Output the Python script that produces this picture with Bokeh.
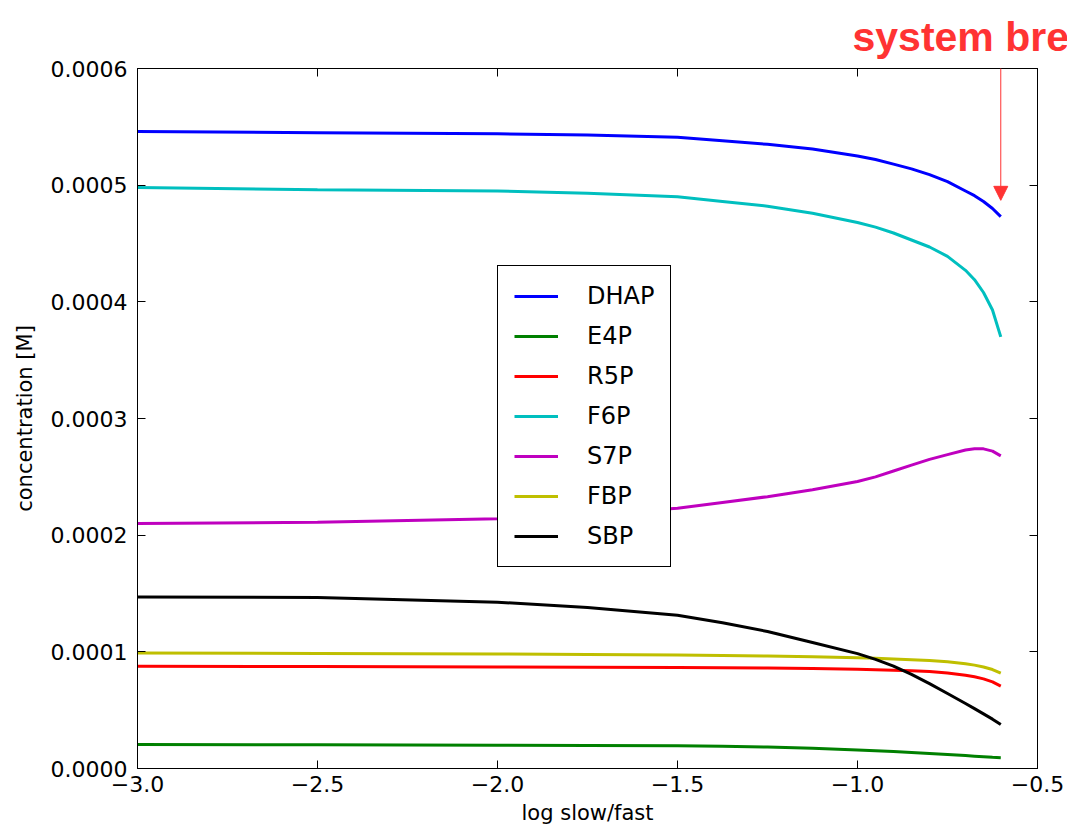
from bokeh.plotting import figure
from bokeh.models import (Range1d, FixedTicker, LinearAxis, Legend, LegendItem,
                          Arrow, NormalHead, Title)
from bokeh.embed import file_html
from bokeh.resources import INLINE

# ---- data ----
x = [-3.0, -2.5, -2.0, -1.75, -1.5, -1.375, -1.25, -1.125, -1.0, -0.95, -0.9,
     -0.85, -0.8, -0.75, -0.7, -0.675, -0.65, -0.625, -0.602]
DHAP = [0.000546, 0.000545, 0.000544, 0.000543, 0.000541, 0.000538, 0.000535,
        0.000531, 0.000525, 0.000522, 0.000518, 0.000514, 0.000509, 0.000503,
        0.000495, 0.000491, 0.000486, 0.000480, 0.000473]
E4P = [0.0000206, 0.0000203, 0.0000200, 0.0000197, 0.0000194, 0.0000190, 0.0000184,
       0.0000173, 0.0000159, 0.0000153, 0.0000146, 0.0000138, 0.0000129, 0.0000120,
       0.0000111, 0.0000106, 0.0000101, 0.0000096, 0.0000092]
R5P = [0.0000877, 0.0000874, 0.0000871, 0.0000868, 0.0000866, 0.0000864, 0.0000861,
       0.0000857, 0.0000851, 0.0000847, 0.0000843, 0.0000838, 0.0000831, 0.0000818,
       0.0000799, 0.0000786, 0.0000768, 0.0000742, 0.0000706]
F6P = [0.000498, 0.000496, 0.000495, 0.000493, 0.000490, 0.000486, 0.000482,
       0.000476, 0.000468, 0.000464, 0.000459, 0.000453, 0.000447, 0.000439,
       0.000427, 0.000419, 0.000408, 0.000393, 0.000370]
S7P = [0.000210, 0.000211, 0.000214, 0.000218, 0.000223, 0.000228, 0.000233,
       0.000239, 0.000246, 0.000250, 0.000255, 0.000260, 0.000265, 0.000269,
       0.000273, 0.000274, 0.000274, 0.000272, 0.000268]
FBP = [0.0000989, 0.0000986, 0.0000981, 0.0000977, 0.0000973, 0.0000969, 0.0000964,
       0.0000957, 0.0000949, 0.0000944, 0.0000939, 0.0000933, 0.0000926, 0.0000915,
       0.0000898, 0.0000886, 0.0000870, 0.0000848, 0.0000817]
SBP = [0.000147, 0.0001466, 0.0001426, 0.000138, 0.0001314, 0.000125, 0.0001174,
       0.000108, 0.0000985, 0.0000935, 0.0000878, 0.0000807, 0.0000728, 0.0000643,
       0.0000557, 0.0000513, 0.0000468, 0.0000423, 0.0000377]

series_names = ["DHAP", "E4P", "R5P", "F6P", "S7P", "FBP", "SBP"]
series_values = [DHAP, E4P, R5P, F6P, S7P, FBP, SBP]
series_colors = ["#0000ff", "#008000", "#ff0000", "#00bfbf", "#bf00bf", "#bfbf00", "#000000"]

x_ticks = [-3.0, -2.5, -2.0, -1.5, -1.0, -0.5]
x_tick_labels = ["\u22123.0", "\u22122.5", "\u22122.0", "\u22121.5", "\u22121.0", "\u22120.5"]
y_ticks = [0.0, 0.0001, 0.0002, 0.0003, 0.0004, 0.0005, 0.0006]
y_tick_labels = ["0.0000", "0.0001", "0.0002", "0.0003", "0.0004", "0.0005", "0.0006"]

annotation_text = "system breaks"

FONT = "DejaVu Sans"
RED = "#ff3333"

p = figure(width=1067, height=830, output_backend="svg", toolbar_location=None,
           x_range=Range1d(-3.0, -0.5), y_range=Range1d(0.0, 0.0006),
           min_border_left=137, min_border_right=30, min_border_top=68,
           min_border_bottom=62)
p.background_fill_color = "white"
p.border_fill_color = "white"
p.outline_line_color = "black"
p.outline_line_width = 1
p.outline_line_alpha = 1.0
p.xgrid.visible = False
p.ygrid.visible = False

# annotation text above the frame (cut at the right edge as in the reference)
p.title = Title(text=annotation_text, align="left", offset=715,
                text_font="Liberation Sans", text_font_size="41px",
                text_font_style="bold", text_color=RED, standoff=18)

renderers = []
for name, vals, col in zip(series_names, series_values, series_colors):
    r = p.line(x, vals, line_color=col, line_width=3)
    renderers.append((name, r))


def style_axis(ax, ticks, labels, show_labels=True):
    ax.ticker = FixedTicker(ticks=ticks)
    ax.major_tick_in = 8
    ax.major_tick_out = 0
    ax.minor_tick_line_color = None
    ax.major_tick_line_color = "black"
    ax.axis_line_color = "black"
    ax.major_label_text_font = FONT
    if show_labels:
        ax.major_label_overrides = {t: l for t, l in zip(ticks, labels)}
        ax.major_label_text_font_size = "22px"
        ax.major_label_text_color = "black"
    else:
        ax.major_label_overrides = {t: "" for t in ticks}
        ax.major_label_text_font_size = "10px"
        ax.major_label_text_color = None
        ax.major_label_standoff = 0


xa = p.xaxis[0]
style_axis(xa, x_ticks, x_tick_labels)
xa.major_label_standoff = 7
xa.axis_label = "log slow/fast"
xa.axis_label_text_font = FONT
xa.axis_label_text_font_size = "21px"
xa.axis_label_text_font_style = "normal"
xa.axis_label_text_color = "black"
xa.axis_label_standoff = 6

ya = p.yaxis[0]
style_axis(ya, y_ticks, y_tick_labels)
ya.major_label_standoff = 10
ya.axis_label = "concentration [M]"
ya.axis_label_text_font = FONT
ya.axis_label_text_font_size = "21px"
ya.axis_label_text_font_style = "normal"
ya.axis_label_text_color = "black"
ya.axis_label_standoff = 11

top = LinearAxis()
style_axis(top, x_ticks, x_tick_labels, show_labels=False)
p.add_layout(top, "above")
right = LinearAxis()
style_axis(right, y_ticks, y_tick_labels, show_labels=False)
p.add_layout(right, "right")

legend = Legend(items=[LegendItem(label=n, renderers=[r]) for n, r in renderers],
                location=(360, 201))
legend.label_text_font = FONT
legend.label_text_font_size = "24px"
legend.label_text_color = "black"
legend.border_line_color = "black"
legend.border_line_width = 1
legend.border_line_alpha = 1.0
legend.background_fill_color = "white"
legend.background_fill_alpha = 1.0
legend.padding = 16
legend.margin = 0
legend.glyph_width = 44
legend.glyph_height = 28
legend.label_height = 28
legend.label_standoff = 29
legend.spacing = 12
p.add_layout(legend)

# arrow pointing at the end of the curves
arrow_x = x[-1]
p.add_layout(Arrow(end=NormalHead(size=14, fill_color=RED, line_color=RED),
                   x_start=arrow_x, y_start=0.000607, x_end=arrow_x, y_end=0.000487,
                   line_color=RED, line_width=1))

open("out.html", "w").write(file_html(p, INLINE))
